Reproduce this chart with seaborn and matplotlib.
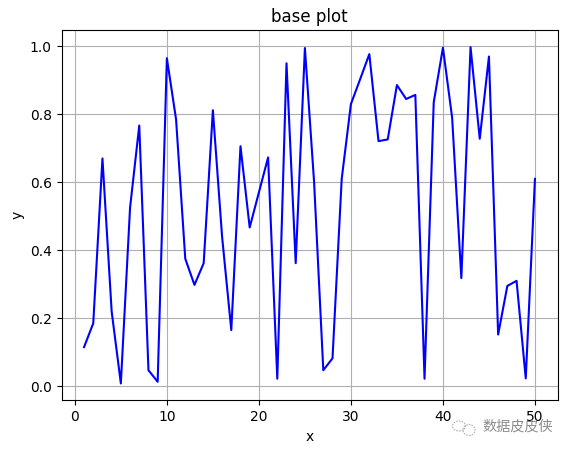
import matplotlib
matplotlib.use("Agg")
import matplotlib.pyplot as plt
from matplotlib.patches import Ellipse
import pandas as pd
import seaborn as sns

x_values = list(range(1, 51))
y_values = [0.115, 0.185, 0.670, 0.220, 0.008, 0.525, 0.767, 0.047, 0.013, 0.965,
            0.785, 0.375, 0.298, 0.362, 0.812, 0.440, 0.165, 0.706, 0.467, 0.570,
            0.673, 0.022, 0.950, 0.362, 0.995, 0.600, 0.047, 0.082, 0.610, 0.830,
            0.903, 0.977, 0.721, 0.726, 0.886, 0.845, 0.857, 0.022, 0.835, 0.996,
            0.790, 0.318, 0.9976, 0.728, 0.970, 0.152, 0.295, 0.310, 0.023, 0.610]
title = "base plot"
xlabel = "x"
ylabel = "y"
watermark = "数据皮皮侠"

W, H = 570, 453
fig = plt.figure(figsize=(W / 100, H / 100), dpi=100)
ax = fig.add_axes([61.5 / W, 1 - 400.3 / H, 496 / W, 370 / H])

df = pd.DataFrame({"x": x_values, "y": y_values})
sns.lineplot(data=df, x="x", y="y", color="b", estimator=None, errorbar=None, ax=ax)
ax.grid(True)
ax.set_title(title)
ax.set_xlabel(xlabel)
ax.set_ylabel(ylabel)

# watermark (logo + text)
fig.text(482 / W, 1 - 427 / H, watermark, family=["Noto Sans CJK SC", "DejaVu Sans"],
         fontsize=10.2, color="#8c8c8c", style="italic", va="center", ha="left")
for cx, cy, w, h in [(459, 426, 13, 10), (469, 430, 12, 11)]:
    fig.add_artist(Ellipse((cx / W, 1 - cy / H), w / W, h / H, transform=fig.transFigure,
                           fill=False, ec="#b4b4b4", lw=0.8, ls=(0, (1.5, 1))))

fig.savefig("out.png", dpi=100)
